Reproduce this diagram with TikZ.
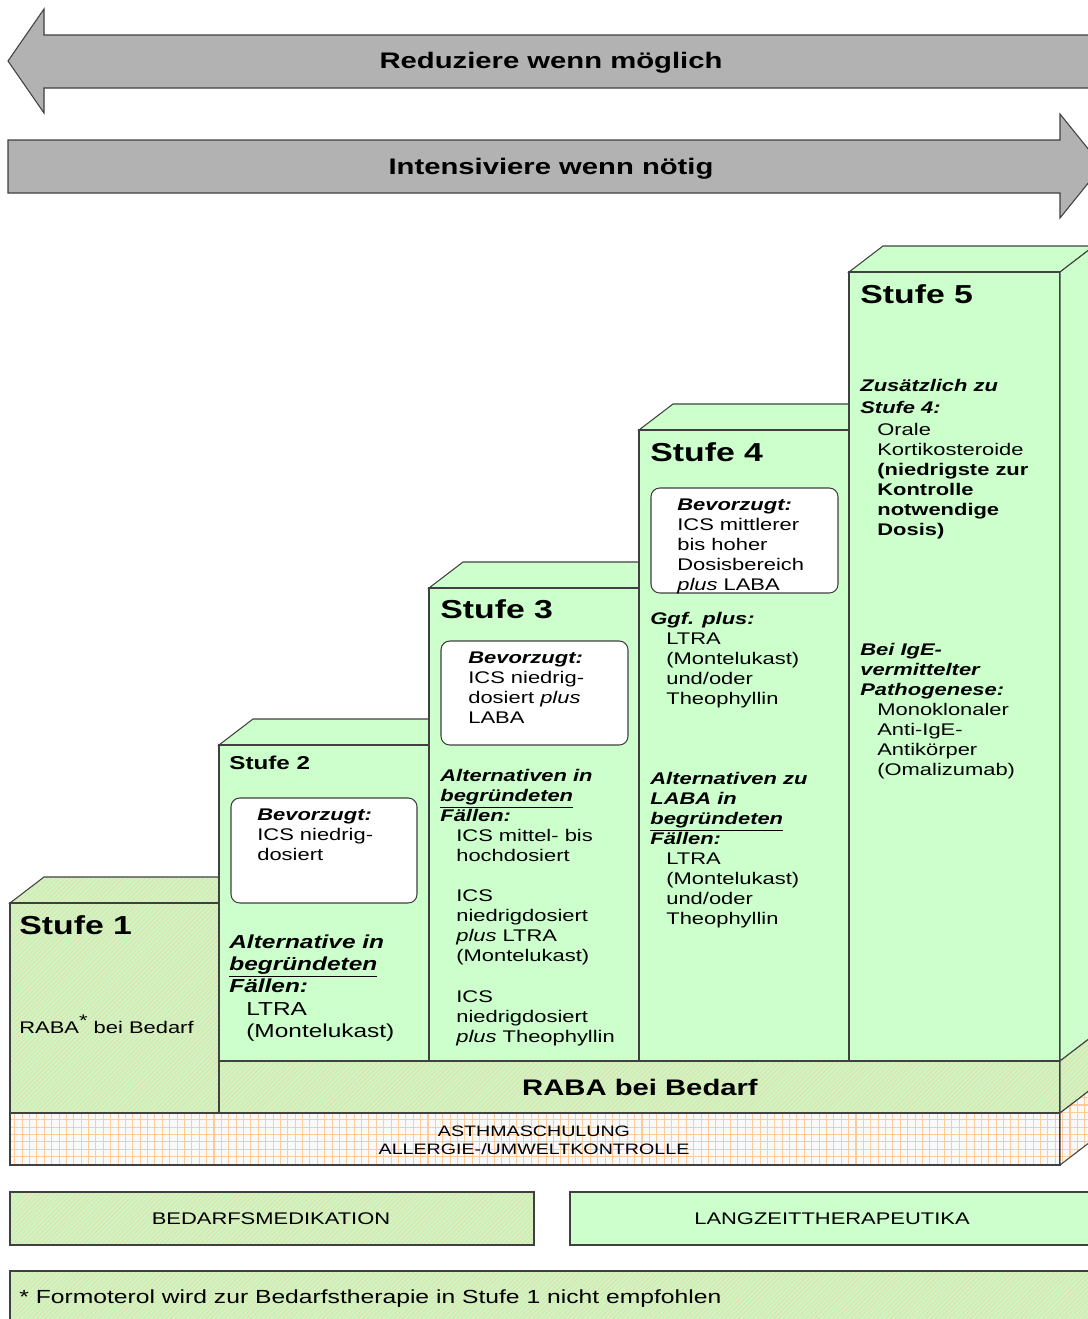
\documentclass[tikz,border=0pt]{standalone}
\usepackage{fontspec}
\setmainfont{Liberation Sans}[FakeStretch=1.3]
\usetikzlibrary{patterns.meta}
\definecolor{stepgreen}{HTML}{CCFFCC}
\definecolor{hatchbase}{HTML}{CCF7C4}
\definecolor{hatchline}{HTML}{E6DCA8}
\definecolor{gridbase}{HTML}{F9F9F9}
\definecolor{gridline}{HTML}{FFCC99}
\definecolor{arrowgray}{HTML}{B2B2B2}
\definecolor{edge}{HTML}{404040}
\newcommand{\bi}[1]{\textbf{\textit{#1}}}
\tikzset{
  stepface/.style={draw=edge, line width=0.6pt, fill=stepgreen},
  hatchface/.style={draw=edge, line width=0.6pt, preaction={fill=hatchbase},
    pattern={Lines[angle=45,distance=1.8pt,line width=0.45pt]}, pattern color=hatchline},
  gridface/.style={draw=edge, line width=0.6pt, preaction={fill=gridbase},
    pattern={Hatch[angle=0,distance=4.2pt,line width=0.6pt]}, pattern color=gridline},
  arrowface/.style={draw=edge, line width=0.6pt, fill=arrowgray},
  prefbox/.style={draw=edge, line width=0.6pt, fill=white, rounded corners=5pt},
  % base anchor = baseline of the last line
  txt/.style={anchor=base west, align=left, inner sep=0pt, font=\fontsize{9.6}{11.34}\selectfont},
  bigtxt/.style={txt, font=\fontsize{10.7}{12.5}\selectfont},
  stufe/.style={anchor=base west, inner sep=0pt, font=\fontsize{14.8}{16}\selectfont\bfseries},
  banner/.style={inner sep=0pt, font=\fontsize{12.8}{14}\selectfont\bfseries},
}
\begin{document}
\begin{tikzpicture}[x=0.02cm, y=-0.02cm]
  \useasboundingbox (0,0) rectangle (1088,1319);
  \clip (0,0) rectangle (1088,1319);
  % arrows
  \draw[arrowface] (8,61) -- (44,9) -- (44,35) -- (1120,35) -- (1120,88)
    -- (44,88) -- (44,113) -- cycle;
  \node[banner] (reduce) at (551,63) {Reduziere wenn möglich};
  \draw[arrowface] (8,140) -- (1060,140) -- (1060,114) -- (1102,166)
    -- (1060,218) -- (1060,193) -- (8,193) -- cycle;
  \node[banner] (intens) at (551,169) {Intensiviere wenn nötig};
  % Stufe 1
  \draw[hatchface] (10,903) -- ++(34,-26) -- ++(209,0) -- ++(-34,26) -- cycle;
  \draw[hatchface] (10,903) rectangle (219,1113);
  % Stufe 2 bis 5
  \foreach \x/\y in {219/745,429/588,639/430,849/272}{
    \draw[stepface] (\x,\y) -- ++(34,-26) -- ++(211,0) -- ++(-34,26) -- cycle;
    \draw[stepface] (\x,\y) rectangle (\x+211,1061);
  }
  \draw[stepface] (1060,272) -- ++(34,-26) -- (1094,1035) -- (1060,1061) -- cycle;
  % RABA bei Bedarf and base
  \draw[hatchface] (219,1061) rectangle (1060,1113);
  \draw[hatchface] (1060,1061) -- ++(34,-26) -- ++(0,52) -- (1060,1113) -- cycle;
  \draw[gridface] (10,1113) rectangle (1060,1165);
  \draw[gridface] (1060,1113) -- ++(34,-26) -- ++(0,52) -- (1060,1165) -- cycle;
  \node[banner] (raba) at (640,1087) {RABA bei Bedarf};
  \node[inner sep=0pt, align=center, font=\fontsize{8.6}{10.2}\selectfont] (schulung)
    at (534,1140) {ASTHMASCHULUNG\\ALLERGIE-/UMWELTKONTROLLE};
  % Stufe 1 text
  \node[stufe] (s1title) at (19,934) {Stufe 1};
  \node[txt] (s1raba) at (19,1033) {RABA\raisebox{0.4em}{*} bei Bedarf};
  % Stufe 2 text
  \node[stufe, font=\fontsize{10.6}{12}\selectfont\bfseries] (s2title) at (229,769) {Stufe 2};
  \draw[prefbox] (231,798) rectangle (417,903);
  \node[txt] (s2pref) at (257,860) {\bi{Bevorzugt:}\\ICS niedrig-\\dosiert};
  \node[bigtxt] (s2alt) at (229,992) {\bi{Alternative in}\\\bi{\underline{begründeten}}\\\bi{Fällen:}};
  \node[bigtxt] (s2ltra) at (246,1037) {LTRA\\(Montelukast)};
  % Stufe 3 text
  \node[stufe] (s3title) at (440,618) {Stufe 3};
  \draw[prefbox] (441,641) rectangle (628,745);
  \node[txt] (s3pref) at (468,723) {\bi{Bevorzugt:}\\ICS niedrig-\\dosiert \textit{plus}\\LABA};
  \node[txt] (s3alt) at (440,821) {\bi{Alternativen in}\\\bi{\underline{begründeten}}\\\bi{Fällen:}};
  \node[txt] (s3optA) at (456,861) {ICS mittel- bis\\hochdosiert};
  \node[txt] (s3optB) at (456,961) {ICS\\niedrigdosiert\\\textit{plus} LTRA\\(Montelukast)};
  \node[txt] (s3optC) at (456,1042) {ICS\\niedrigdosiert\\\textit{plus} Theophyllin};
  % Stufe 4 text
  \node[stufe] (s4title) at (650,461) {Stufe 4};
  \draw[prefbox] (651,488) rectangle (838,593);
  \node[txt] (s4pref) at (677,590) {\bi{Bevorzugt:}\\ICS mittlerer\\bis hoher\\Dosisbereich\\\textit{plus} LABA};
  \node[txt] (s4plus) at (650,624) {\bi{Ggf. plus:}};
  \node[txt] (s4optA) at (666,704) {LTRA\\(Montelukast)\\und/oder\\Theophyllin};
  \node[txt] (s4alt) at (650,844) {\bi{Alternativen zu}\\\bi{LABA in}\\\bi{\underline{begründeten}}\\\bi{Fällen:}};
  \node[txt] (s4optB) at (666,924) {LTRA\\(Montelukast)\\und/oder\\Theophyllin};
  % Stufe 5 text
  \node[stufe] (s5title) at (860,303) {Stufe 5};
  \node[txt, font=\fontsize{9.6}{12.5}\selectfont] (s5add) at (860,413) {\bi{Zusätzlich zu}\\\bi{Stufe 4:}};
  \node[txt] (s5oral) at (877,535) {Orale\\Kortikosteroide\\\textbf{(niedrigste zur}\\\textbf{Kontrolle}\\\textbf{notwendige}\\\textbf{Dosis)}};
  \node[txt] (s5ige) at (860,695) {\bi{Bei IgE-}\\\bi{vermittelter}\\\bi{Pathogenese:}};
  \node[txt] (s5anti) at (877,775) {Monoklonaler\\Anti-IgE-\\Antikörper\\(Omalizumab)};
  % legend
  \draw[hatchface] (10,1192) rectangle (534,1245);
  \node[inner sep=0pt, font=\fontsize{9.6}{11}\selectfont] (bedarf) at (271,1219) {BEDARFSMEDIKATION};
  \draw[stepface] (570,1192) rectangle (1110,1245);
  \node[inner sep=0pt, font=\fontsize{9.6}{11}\selectfont] (langzeit) at (832,1219) {LANGZEITTHERAPEUTIKA};
  \draw[hatchface] (10,1271) rectangle (1110,1340);
  \node[txt, font=\fontsize{10.8}{12}\selectfont] (fussnote) at (19,1303)
    {* Formoterol wird zur Bedarfstherapie in Stufe 1 nicht empfohlen};
\end{tikzpicture}
\end{document}
